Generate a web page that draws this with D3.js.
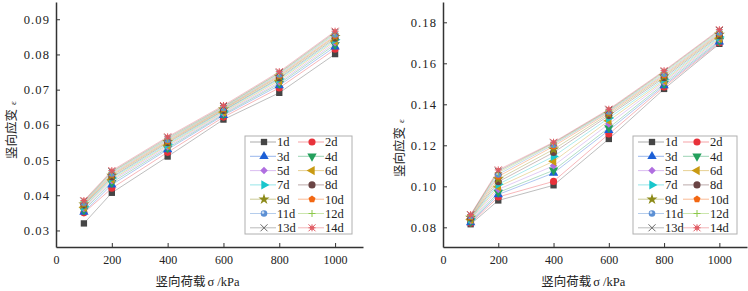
<!DOCTYPE html>
<html>
<head>
<meta charset="utf-8">
<script src="https://cdn.jsdelivr.net/npm/d3@7"></script>
<style>
  body { margin: 0; background: #fff; }
  text { font-family: "Liberation Serif", "DejaVu Serif", serif; fill: #222; }
  .cjk { font-family: "Noto Sans CJK SC", sans-serif; }
</style>
</head>
<body>
<svg id="chart" width="748" height="291"></svg>
<script>
// loads (kPa)
const loads = [100, 200, 400, 600, 800, 1000];
const seriesNames = ["1d","2d","3d","4d","5d","6d","7d","8d","9d","10d","11d","12d","13d","14d"];

// left panel, vertical strain
const leftValues = [
  [0.0320, 0.0407, 0.0510, 0.0615, 0.0691, 0.0801],
  [0.0350, 0.0420, 0.0522, 0.0622, 0.0705, 0.0815],
  [0.0352, 0.0430, 0.0530, 0.0627, 0.0712, 0.0822],
  [0.0358, 0.0436, 0.0534, 0.0630, 0.0717, 0.0828],
  [0.0362, 0.0441, 0.0538, 0.0633, 0.0721, 0.0833],
  [0.0366, 0.0445, 0.0542, 0.0636, 0.0726, 0.0838],
  [0.0368, 0.0449, 0.0545, 0.0639, 0.0730, 0.0842],
  [0.0372, 0.0452, 0.0549, 0.0641, 0.0733, 0.0846],
  [0.0374, 0.0456, 0.0552, 0.0644, 0.0737, 0.0850],
  [0.0377, 0.0459, 0.0555, 0.0646, 0.0740, 0.0853],
  [0.0379, 0.0462, 0.0558, 0.0648, 0.0743, 0.0857],
  [0.0381, 0.0465, 0.0560, 0.0650, 0.0746, 0.0860],
  [0.0383, 0.0467, 0.0563, 0.0652, 0.0748, 0.0863],
  [0.0385, 0.0470, 0.0566, 0.0655, 0.0751, 0.0866]
];

// right panel, vertical strain
const rightValues = [
  [0.0815, 0.0931, 0.1005, 0.1231, 0.1475, 0.1695],
  [0.0820, 0.0948, 0.1024, 0.1255, 0.1485, 0.1700],
  [0.0823, 0.0960, 0.1065, 0.1273, 0.1492, 0.1705],
  [0.0828, 0.0970, 0.1078, 0.1285, 0.1500, 0.1710],
  [0.0832, 0.0985, 0.1100, 0.1304, 0.1508, 0.1716],
  [0.0838, 0.0998, 0.1122, 0.1320, 0.1515, 0.1722],
  [0.0841, 0.1010, 0.1146, 0.1333, 0.1522, 0.1728],
  [0.0845, 0.1022, 0.1165, 0.1345, 0.1530, 0.1734],
  [0.0848, 0.1035, 0.1180, 0.1353, 0.1537, 0.1740],
  [0.0852, 0.1048, 0.1195, 0.1360, 0.1543, 0.1745],
  [0.0855, 0.1058, 0.1203, 0.1365, 0.1549, 0.1750],
  [0.0858, 0.1067, 0.1208, 0.1369, 0.1555, 0.1755],
  [0.0860, 0.1074, 0.1212, 0.1372, 0.1560, 0.1760],
  [0.0862, 0.1080, 0.1215, 0.1376, 0.1564, 0.1764]
];

const xTicks = [0, 200, 400, 600, 800, 1000];
const leftYTicks = [0.03, 0.04, 0.05, 0.06, 0.07, 0.08, 0.09];
const rightYTicks = [0.08, 0.10, 0.12, 0.14, 0.16, 0.18];

const colors = ["#454545","#e8323a","#1c5fd6","#23a05c","#b06ee0","#c99a12","#18c6cc",
                "#6a4444","#8c8a18","#f26712","#5c90d4","#8cc84a","#666666","#e05a62"];
const shapes = ["square","circle","tri-up","tri-down","diamond","tri-left","tri-right",
                "circle","star","pentagon","ball","plus","cross","asterisk"];

const svg = d3.select("#chart");

// draw one marker into a group at 0,0
function marker(g, shape, color) {
  const sym = (type, size, rot) => g.append("path")
    .attr("d", d3.symbol().type(type).size(size)())
    .attr("transform", rot ? `rotate(${rot})` : null)
    .attr("fill", color);
  if (shape === "square") sym(d3.symbolSquare, 40);
  else if (shape === "circle") sym(d3.symbolCircle, 40);
  else if (shape === "tri-up") sym(d3.symbolTriangle, 38, 0);
  else if (shape === "tri-down") sym(d3.symbolTriangle, 38, 180);
  else if (shape === "tri-left") sym(d3.symbolTriangle, 38, -90);
  else if (shape === "tri-right") sym(d3.symbolTriangle, 38, 90);
  else if (shape === "diamond") sym(d3.symbolSquare, 28, 45);
  else if (shape === "star") sym(d3.symbolStar, 38);
  else if (shape === "pentagon") {
    const r = 3.7;
    const pts = d3.range(5).map(i => {
      const a = -Math.PI / 2 + i * 2 * Math.PI / 5;
      return [r * Math.cos(a), r * Math.sin(a)];
    });
    g.append("path").attr("d", "M" + pts.join("L") + "Z").attr("fill", color);
  } else if (shape === "ball") {
    sym(d3.symbolCircle, 34);
    g.append("circle").attr("cx", -1).attr("cy", -1).attr("r", 1.3).attr("fill", "#cfe0f5");
  } else {
    const r = 3.5;
    let d = "";
    if (shape === "plus" || shape === "asterisk") d += `M${-r},0H${r}M0,${-r}V${r}`;
    if (shape === "cross" || shape === "asterisk") d += `M${-r},${-r}L${r},${r}M${-r},${r}L${r},${-r}`;
    g.append("path").attr("d", d).attr("stroke", color).attr("stroke-width", 1).attr("fill", "none");
    if (shape === "asterisk") g.append("rect").attr("x", -1.5).attr("y", -1.5)
      .attr("width", 3).attr("height", 3).attr("fill", "none").attr("stroke", color).attr("stroke-width", 0.8);
  }
}

function drawPanel(cfg) {
  const x = d3.scaleLinear().domain([0, 1100]).range(cfg.xRange);
  const y = d3.scaleLinear().domain(cfg.yDomain).range([247, 2]);
  const g = svg.append("g");

  const line = d3.line().x((d, i) => x(loads[i])).y(d => y(d));

  // pale connecting lines
  g.selectAll(".series-line")
    .data(cfg.values)
    .join("path")
    .attr("class", "series-line")
    .attr("d", d => line(d))
    .attr("fill", "none")
    .attr("stroke", (d, i) => colors[i])
    .attr("stroke-opacity", 0.35)
    .attr("stroke-width", 1);

  // markers
  cfg.values.forEach((vals, si) => {
    vals.forEach((v, i) => {
      const mg = g.append("g").attr("transform", `translate(${x(loads[i])},${y(v)})`);
      marker(mg, shapes[si], colors[si]);
    });
  });

  // axes, ticks pointing inward
  const xAxis = g.append("g").attr("transform", "translate(0,247)")
    .call(d3.axisBottom(x).tickValues(xTicks).tickFormat(d3.format("d"))
      .tickSizeInner(-4).tickSizeOuter(0).tickPadding(8));
  const yAxis = g.append("g").attr("transform", `translate(${cfg.xRange[0]},0)`)
    .call(d3.axisLeft(y).tickValues(cfg.yTicks).tickFormat(d3.format(".2f"))
      .tickSizeInner(-4).tickSizeOuter(0).tickPadding(6));
  [xAxis, yAxis].forEach(a => {
    a.select(".domain").attr("stroke", "#333").attr("stroke-width", 1.5);
    a.selectAll(".tick line").attr("stroke", "#333").attr("stroke-width", 1);
    a.selectAll(".tick text").attr("font-size", 12)
      .attr("font-family", "Liberation Serif, serif").attr("fill", "#222");
  });
  yAxis.selectAll(".tick text").attr("font-size", 12.5).attr("letter-spacing", "1.1px");
  xAxis.select(".tick:first-of-type line").remove();

  // axis titles
  g.append("text")
    .attr("x", (cfg.xRange[0] + x(1000)) / 2 + 2).attr("y", 286)
    .attr("text-anchor", "middle").attr("font-size", 12.5)
    .html('<tspan class="cjk">竖向荷载</tspan><tspan dx="2">σ /kPa</tspan>');
  g.append("text")
    .attr("transform", `translate(${cfg.yTitleX},${cfg.yTitleY}) rotate(-90)`)
    .attr("text-anchor", "middle").attr("dy", "0.4em").attr("font-size", 12.5)
    .html('<tspan class="cjk">竖向应变</tspan><tspan dx="4" font-size="9">ε</tspan>');

  // legend
  const lg = svg.append("g").attr("transform", `translate(${cfg.legend[0]},${cfg.legend[1]})`);
  lg.append("rect").attr("width", cfg.legend[2]).attr("height", 98)
    .attr("fill", "#fff").attr("stroke", "#b0b0b0").attr("stroke-width", 1);
  seriesNames.forEach((name, i) => {
    const col = i % 2, row = Math.floor(i / 2);
    const ox = 5 + col * cfg.colStep, oy = 6 + row * 14.3;
    const it = lg.append("g").attr("transform", `translate(${ox},${oy})`);
    it.append("line").attr("x1", 0).attr("x2", 26).attr("y1", 0).attr("y2", 0)
      .attr("stroke", colors[i]).attr("stroke-opacity", 0.45).attr("stroke-width", 1);
    marker(it.append("g").attr("transform", "translate(14,0)"), shapes[i], colors[i]);
    it.append("text").attr("x", 27).attr("y", 0).attr("dy", "0.35em")
      .attr("font-size", 12.5).text(name);
  });
}

drawPanel({
  xRange: [56, 363], yDomain: [0.0253, 0.0949], yTicks: leftYTicks, values: leftValues,
  yTitleX: 11, yTitleY: 130, legend: [245, 136, 107], colStep: 48
});
drawPanel({
  xRange: [443, 747], yDomain: [0.0704, 0.1899], yTicks: rightYTicks, values: rightValues,
  yTitleX: 399, yTitleY: 148, legend: [633, 136, 104], colStep: 45
});
</script>
</body>
</html>
